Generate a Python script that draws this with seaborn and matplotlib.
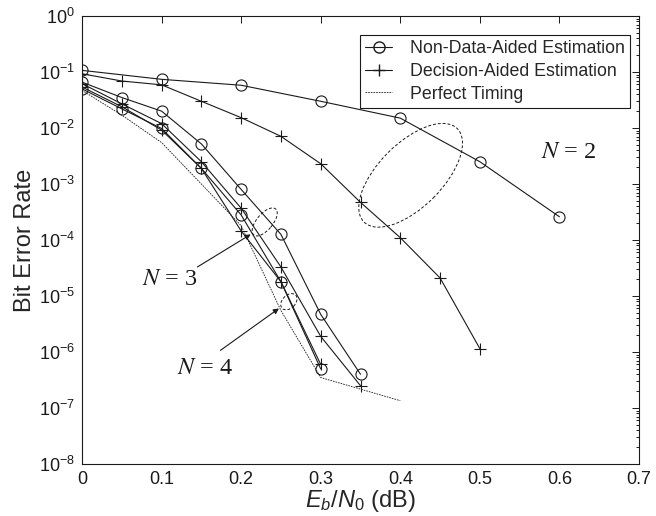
import numpy as np
import pandas as pd
import matplotlib
matplotlib.use("Agg")
import matplotlib.pyplot as plt
import seaborn as sns
from matplotlib.patches import Ellipse
from matplotlib.lines import Line2D
import matplotlib.transforms as mtransforms
from matplotlib.ticker import LogLocator, NullFormatter, FixedLocator, LogFormatterSciNotation

# ---------------- data ----------------
x_n2_nda = [0.0, 0.1, 0.2, 0.3, 0.4, 0.5, 0.6]
ber_n2_nda = [0.107, 0.074, 0.058, 0.030, 0.015, 0.0025, 0.00026]

x_n2_da = [0.0, 0.05, 0.1, 0.15, 0.2, 0.25, 0.3, 0.35, 0.4, 0.45, 0.5]
ber_n2_da = [0.093, 0.069, 0.059, 0.030, 0.0153, 0.0071, 0.0023, 0.00047, 0.00011, 2.1e-5, 1.15e-6]

x_n3 = [0.0, 0.05, 0.1, 0.15, 0.2, 0.25, 0.3, 0.35]
ber_n3_nda = [0.066, 0.035, 0.020, 0.0052, 0.00080, 0.000126, 4.7e-6, 4.0e-7]
ber_n3_da = [0.062, 0.027, 0.012, 0.0025, 0.00037, 3.3e-5, 1.9e-6, 2.5e-7]

x_n4 = [0.0, 0.05, 0.1, 0.15, 0.2, 0.25, 0.3]
ber_n4_nda = [0.050, 0.022, 0.0098, 0.0019, 0.00028, 1.8e-5, 5.0e-7]
ber_n4_da = [0.054, 0.024, 0.0092, 0.0019, 0.000145, 1.8e-5, 6.0e-7]

x_perfect = [0.0, 0.05, 0.1, 0.15, 0.2, 0.25, 0.3, 0.4]
ber_perfect = [0.047, 0.017, 0.0055, 0.0010, 0.00018, 5.5e-6, 3.5e-7, 1.35e-7]

legend_labels = ["Non-Data-Aided Estimation", "Decision-Aided Estimation", "Perfect Timing"]
x_ticks = [0.0, 0.1, 0.2, 0.3, 0.4, 0.5, 0.6, 0.7]
y_ticks = [1e0, 1e-1, 1e-2, 1e-3, 1e-4, 1e-5, 1e-6, 1e-7, 1e-8]

# ---------------- style ----------------
sns.set_theme(style="white")
plt.rcParams['font.family'] = ['Liberation Sans', 'DejaVu Sans']
plt.rcParams['mathtext.fontset'] = 'custom'
plt.rcParams['mathtext.rm'] = 'Liberation Sans'
plt.rcParams['mathtext.it'] = 'Liberation Sans:italic'
plt.rcParams['mathtext.bf'] = 'Liberation Sans:bold'
plt.rcParams['axes.unicode_minus'] = False

fig = plt.figure(figsize=(6.56, 5.16), dpi=100)
ax = fig.add_axes([82/656, (516-464)/516, 557/656, 448/516])
ax.set_yscale('log')

LW = 0.8
MS = 8

def draw(x, y, marker, ls='-', lw=LW):
    df = pd.DataFrame({"x": x, "y": y})
    sns.lineplot(data=df, x="x", y="y", ax=ax, color='k', marker=marker,
                 linestyle=ls, lw=lw, markersize=MS, markerfacecolor='none',
                 markeredgecolor='k', markeredgewidth=0.8,
                 estimator=None, errorbar=None, sort=False, legend=False)

draw(x_n2_nda, ber_n2_nda, 'o')
draw(x_n2_da, ber_n2_da, '+')
draw(x_n3, ber_n3_nda, 'o')
draw(x_n3, ber_n3_da, '+')
draw(x_n4, ber_n4_nda, 'o')
draw(x_n4, ber_n4_da, '+')
draw(x_perfect, ber_perfect, '', ls=(0, (2, 1.2)), lw=0.6)

ax.set_xlim(0, 0.7)
ax.set_ylim(1e-8, 1)
ax.xaxis.set_major_locator(FixedLocator(x_ticks))
ax.set_xticklabels([f"{t:g}" for t in x_ticks])
ax.yaxis.set_major_locator(FixedLocator(y_ticks))
ax.yaxis.set_major_formatter(LogFormatterSciNotation())
ax.yaxis.set_minor_locator(LogLocator(base=10, subs=np.arange(2, 10), numticks=200))
ax.yaxis.set_minor_formatter(NullFormatter())

ax.tick_params(which='both', direction='in', top=True, right=True, colors='k',
               labelsize=13, width=0.7)
ax.tick_params(which='major', length=5)
ax.tick_params(which='minor', length=2.5)
ax.tick_params(axis='y', which='major', pad=5)
ax.tick_params(axis='x', which='major', pad=5)
for s in ax.spines.values():
    s.set_color('k')
    s.set_linewidth(0.8)

ax.set_xlabel(r'$E_b/N_{\rm 0}$ (dB)', fontsize=17, labelpad=0)
ax.set_ylabel('Bit Error Rate', fontsize=17, labelpad=2)

# legend
handles = [
    Line2D([], [], color='k', lw=LW, marker='o', mfc='none', mec='k', ms=MS),
    Line2D([], [], color='k', lw=LW, marker='+', mec='k', ms=MS),
    Line2D([], [], color='k', lw=0.6, ls=(0, (2, 1.2))),
]
leg = ax.legend(handles, legend_labels, loc='upper right',
                bbox_to_anchor=(1 - 9/557, 1 - 19/448), borderaxespad=0,
                fancybox=False, edgecolor='k', framealpha=1, fontsize=12.8,
                handlelength=1.5, borderpad=0.3, labelspacing=0.32,
                handletextpad=1.0)
leg.get_frame().set_linewidth(0.8)

# dashed ellipses (size in pixels, centred in data coordinates)
def ellipse(cx, cy, w_px, h_px, ang):
    tr = fig.dpi_scale_trans + mtransforms.ScaledTranslation(cx, cy, ax.transData)
    e = Ellipse((0, 0), w_px/100, h_px/100, angle=ang, transform=tr,
                fill=False, ls=(0, (3, 2)), lw=0.7, ec='k')
    ax.add_patch(e)

ellipse(0.413, 1.43e-3, 132, 64, 45)
ellipse(0.2296, 2.1e-4, 34, 16, 50)
ellipse(0.26, 7.9e-6, 19, 13, 45)

# arrows
arrow_kw = dict(arrowstyle='-|>', color='k', lw=0.8, mutation_scale=8,
                shrinkA=0, shrinkB=0)
ax.annotate('', xy=(0.212, 1.26e-4), xytext=(0.145, 3.3e-5), arrowprops=arrow_kw)
ax.annotate('', xy=(0.2475, 6e-6), xytext=(0.174, 1.07e-6), arrowprops=arrow_kw)

# N labels
txt_kw = dict(fontsize=17.5, family='Liberation Serif', math_fontfamily='stix',
              ha='center', va='center', color='k')
ax.text(0.611, 3.7e-3, r'$N$ = 2', **txt_kw)
ax.text(0.110, 2.0e-5, r'$N$ = 3', **txt_kw)
ax.text(0.155, 5.0e-7, r'$N$ = 4', **txt_kw)

fig.savefig('out.png', dpi=100, facecolor='white')
